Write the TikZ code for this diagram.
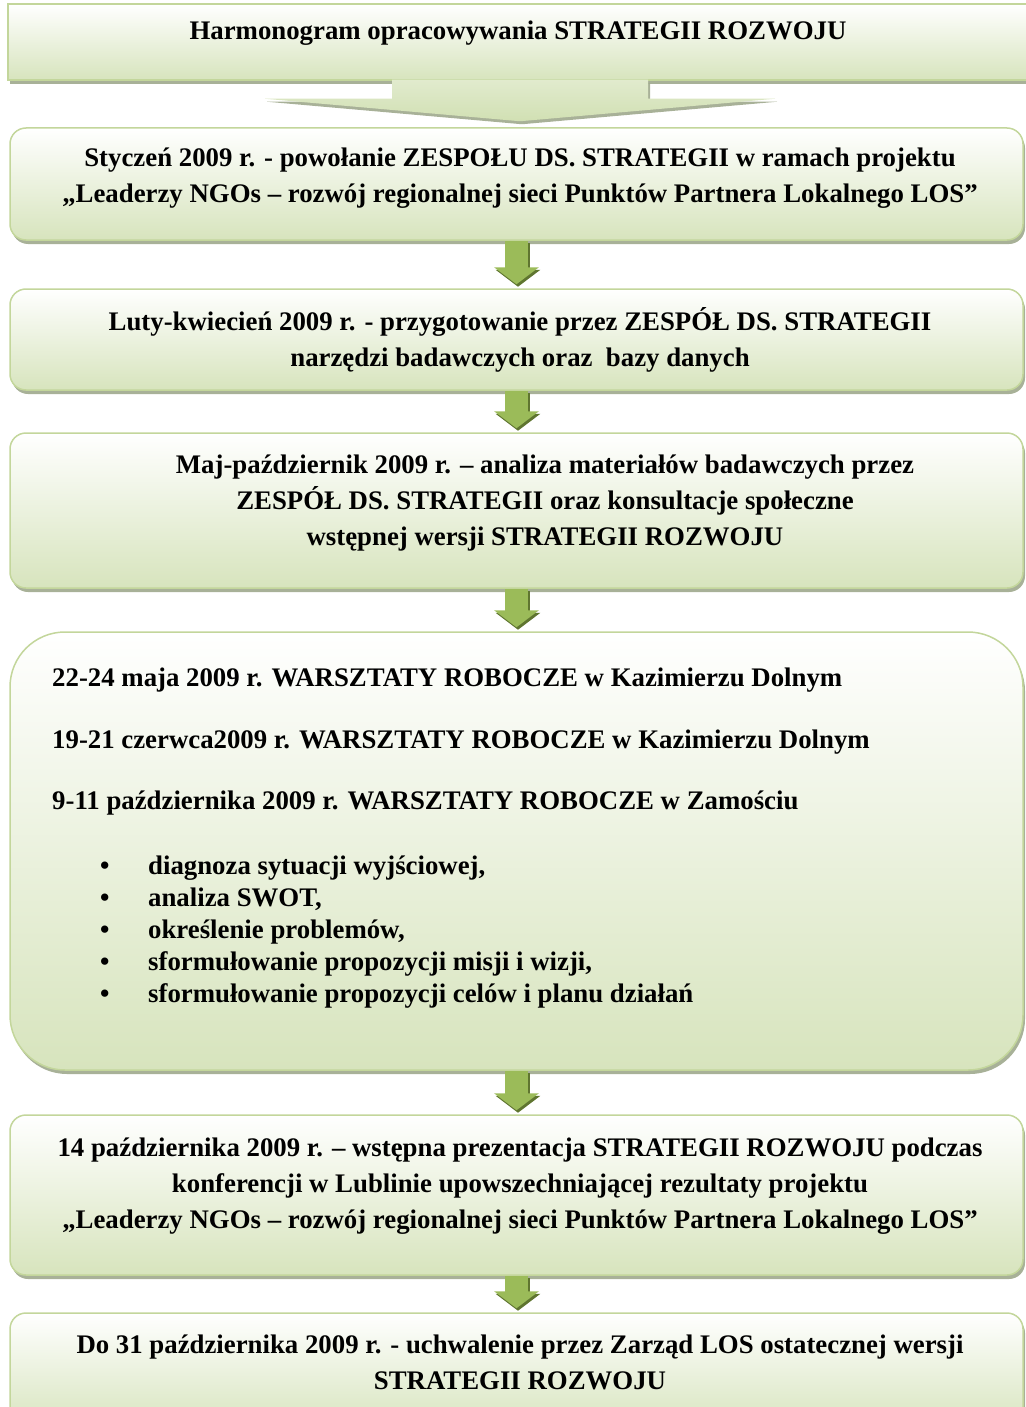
\documentclass[tikz,border=0pt]{standalone}
\usepackage{fontspec}
\setmainfont{Liberation Serif}
\usetikzlibrary{arrows.meta,shadows,calc}

\definecolor{stepfill}{HTML}{D7E4BD}
\definecolor{stepline}{HTML}{C3D69B}
\definecolor{stepshade}{HTML}{9FA98D}
\definecolor{flowgreen}{HTML}{9BBB59}
\definecolor{flowdark}{HTML}{5F7530}

\begin{document}
\begin{tikzpicture}[x=1pt, y=-1pt,
    stepbox/.style = {draw=stepline, line width=1.5pt, rounded corners=16pt, top color=white, bottom color=stepfill, minimum width=1013pt, drop shadow={shadow xshift=2pt, shadow yshift=-4pt, fill=stepshade, opacity=0.9}},
    steptext/.style = {inner sep=0pt, align=center, font=\fontsize{26.8}{36}\selectfont\bfseries},
    flow/.style = {line width=23pt, draw=flowgreen, -{Triangle[width=44pt,length=17pt]}, shorten >=4pt},
    flowshadow/.style = {flow, draw=flowdark, transform canvas={shift={(1.5pt,-2.5pt)}}}]
        \useasboundingbox (0,0) rectangle (1025,1407);

        \node[stepbox, rounded corners=0pt, minimum width=1024pt, minimum height=76pt] (title) at (520,42) {};
        \node[stepbox, minimum height=112pt] (jan) at (516.5,184) {};
        \node[stepbox, minimum height=101pt] (feb) at (516.5,339.5) {};
        \node[stepbox, minimum height=155pt] (may) at (516.5,510.5) {};
        \node[stepbox, rounded corners=55pt, minimum height=438pt] (wsh) at (516.5,851) {};
        \node[stepbox, minimum height=160pt] (oct) at (516.5,1195) {};
        \node[stepbox, minimum height=117pt] (fin) at (516.5,1371.5) {};

        \path[top color=stepfill!75!white, bottom color=stepfill!90!flowgreen, drop shadow={shadow xshift=2pt, shadow yshift=-3pt, fill=stepshade, opacity=0.9}]
            let \p1 = (title.south), \p2 = (jan.north) in
            (\x1-128pt,\y1+1pt) -- (\x1-128pt,\y1-18pt) -- (\x1-255pt,\y1-18pt) -- (\x1,\y2+6pt)
            -- (\x1+255pt,\y1-18pt) -- (\x1+128pt,\y1-18pt) -- (\x1+128pt,\y1+1pt) -- cycle;

        \node[steptext] (titletxt) at (518,33) {Harmonogram opracowywania STRATEGII ROZWOJU};
        \node[steptext] (jantxt) at (520,178) {Styczeń 2009 r. - powołanie ZESPOŁU DS. STRATEGII w ramach projektu\\
            „Leaderzy NGOs – rozwój regionalnej sieci Punktów Partnera Lokalnego LOS”};
        \node[steptext] (febtxt) at (520,339.5) {Luty-kwiecień 2009 r. - przygotowanie przez ZESPÓŁ DS. STRATEGII\\
            narzędzi badawczych oraz\ \ bazy danych};
        \node[steptext] (maytxt) at (545,503) {Maj-październik 2009 r. – analiza materiałów badawczych przez\\
            ZESPÓŁ DS. STRATEGII oraz konsultacje społeczne\\
            wstępnej wersji STRATEGII ROZWOJU};
        \node[steptext, align=left, font=\fontsize{26.8}{32}\selectfont\bfseries, anchor=north west] (wshtxt) at (52,668) {%
            22-24 maja 2009 r. WARSZTATY ROBOCZE w Kazimierzu Dolnym\\[30pt]
            19-21 czerwca2009 r. WARSZTATY ROBOCZE w Kazimierzu Dolnym\\[29pt]
            9-11 października 2009 r. WARSZTATY ROBOCZE w Zamościu\\[33pt]
            \hspace*{48pt}\makebox[48pt][l]{\textbullet}diagnoza sytuacji wyjściowej,\\
            \hspace*{48pt}\makebox[48pt][l]{\textbullet}analiza SWOT,\\
            \hspace*{48pt}\makebox[48pt][l]{\textbullet}określenie problemów,\\
            \hspace*{48pt}\makebox[48pt][l]{\textbullet}sformułowanie propozycji misji i wizji,\\
            \hspace*{48pt}\makebox[48pt][l]{\textbullet}sformułowanie propozycji celów i planu działań};
        \node[steptext] (octtxt) at (520,1186) {14 października 2009 r. – wstępna prezentacja STRATEGII ROZWOJU podczas\\
            konferencji w Lublinie upowszechniającej rezultaty projektu\\
            „Leaderzy NGOs – rozwój regionalnej sieci Punktów Partnera Lokalnego LOS”};
        \node[steptext] (fintxt) at (520,1362.5) {Do 31 października 2009 r. - uchwalenie przez Zarząd LOS ostatecznej wersji\\
            STRATEGII ROZWOJU};

        \foreach \a/\b in {jan/feb, feb/may, may/wsh, wsh/oct, oct/fin} {
            \draw[flowshadow] (\a) -- (\b);
            \draw[flow] (\a) -- (\b);
        }
    \end{tikzpicture}
\end{document}
